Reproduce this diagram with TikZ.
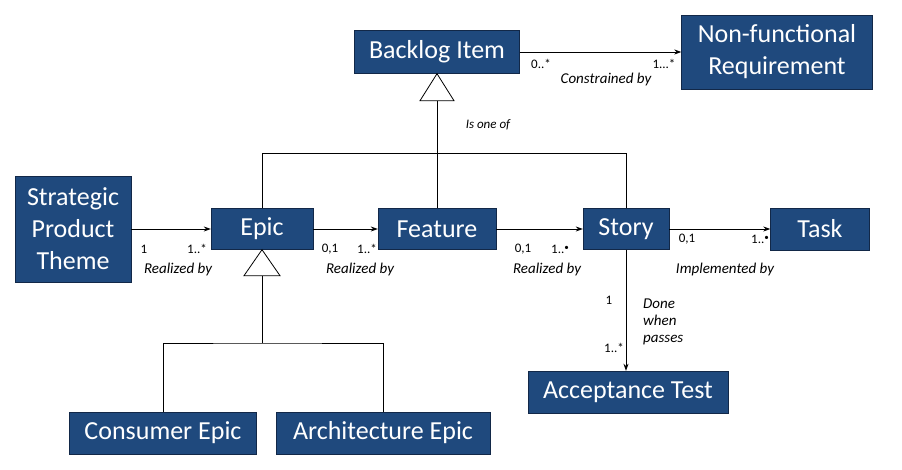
\documentclass[tikz,border=0pt]{standalone}
\usepackage{fontspec}
\setmainfont{Carlito}
\usetikzlibrary{arrows.meta}
\definecolor{boxblue}{RGB}{31,73,125}
\definecolor{boxline}{RGB}{18,40,72}
\newcommand{\rdot}{\raisebox{3pt}{\scalebox{0.7}{\textbullet}}}
\tikzset{
    item/.style={draw=boxline,fill=boxblue,text=white,inner sep=0pt,
        align=center,font=\fontsize{26}{32}\selectfont},
    mult/.style={inner sep=0pt,font=\fontsize{13}{15}\selectfont},
    role/.style={inner sep=0pt,font=\fontsize{15}{17}\selectfont\itshape},
    assoc/.style={-{Stealth[length=7pt,width=5pt]},line width=0.8pt},
    gen/.style={line width=0.8pt}
}
\begin{document}
\begin{tikzpicture}[x=1pt,y=-1pt]
        \useasboundingbox (0,0) rectangle (902,470);
        %% Classes
        \node[item,minimum width=165,minimum height=43] (bi) at (437,52) {Backlog Item};
        \node[item,minimum width=191,minimum height=74] (nfr) at (777,52) {Non-functional\\Requirement};
        \node[item,minimum width=116,minimum height=106] (spt) at (73,229) {Strategic\\Product\\Theme};
        \node[item,minimum width=102,minimum height=41] (epic) at (262,229) {Epic};
        \node[item,minimum width=118,minimum height=41] (feature) at (437,229) {Feature};
        \node[item,minimum width=86,minimum height=41] (story) at (626,229) {Story};
        \node[item,minimum width=99,minimum height=42] (task) at (820,229) {Task};
        \node[item,minimum width=200,minimum height=42] (at) at (628,392) {Acceptance Test};
        \node[item,minimum width=187,minimum height=42] (ce) at (163,433) {Consumer Epic};
        \node[item,minimum width=214,minimum height=42] (ae) at (383,433) {Architecture Epic};
        %% Associations
        \draw[assoc] (bi) -- (nfr);
        \node[mult] (m1) at (541,64) {0..*};
        \node[mult] (m2) at (664,64) {1...*};
        \node[role] (r1) at (606,80) {Constrained by};
        \draw[assoc] (spt) -- (epic);
        \node[mult] (m3) at (144,249) {1};
        \node[mult] (m4) at (197,249) {1..*};
        \node[role] (r2) at (178,270) {Realized by};
        \draw[assoc] (epic) -- (feature);
        \node[mult] (m5) at (330,249) {0,1};
        \node[mult] (m6) at (367,249) {1..*};
        \node[role] (r3) at (360,270) {Realized by};
        \draw[assoc] (feature) -- (story);
        \node[mult] (m7) at (523,249) {0,1};
        \node[mult] (m8) at (560,249) {1..\rdot};
        \node[role] (r4) at (547,270) {Realized by};
        \draw[assoc] (story) -- (task);
        \node[mult] (m9) at (687,239) {0,1};
        \node[mult] (m10) at (760,239) {1..\rdot};
        \node[role] (r5) at (725,270) {Implemented by};
        \draw[assoc] (story) -- (story |- at.north);
        \node[mult] (m11) at (609,300) {1};
        \node[mult] (m12) at (614,348) {1..*};
        \node[role,anchor=west,align=left] (r6) at (643,322) {Done\\when\\passes};
        %% Generalization: backlog items
        \coordinate (g1) at (437,153);
        \draw[gen] (bi.south) -- ++(-17,27) -- ++(34,0) -- cycle;
        \draw[gen] ([yshift=-27pt]bi.south) -- (g1);
        \draw[gen] (epic.north) |- (story.north |- g1) -- (story.north);
        \draw[gen] (g1) -- (feature.north);
        \node[role,font=\fontsize{13}{15}\selectfont\itshape] (r7) at (488,125) {Is one of};
        %% Generalization: epics
        \coordinate (g2) at (262,343);
        \draw[gen] (epic.south) -- ++(-18,26) -- ++(36,0) -- cycle;
        \draw[gen] ([yshift=-26pt]epic.south) -- (g2);
        \draw[gen] (ce.north) |- (g2) -| (ae.north);
    \end{tikzpicture}
\end{document}
